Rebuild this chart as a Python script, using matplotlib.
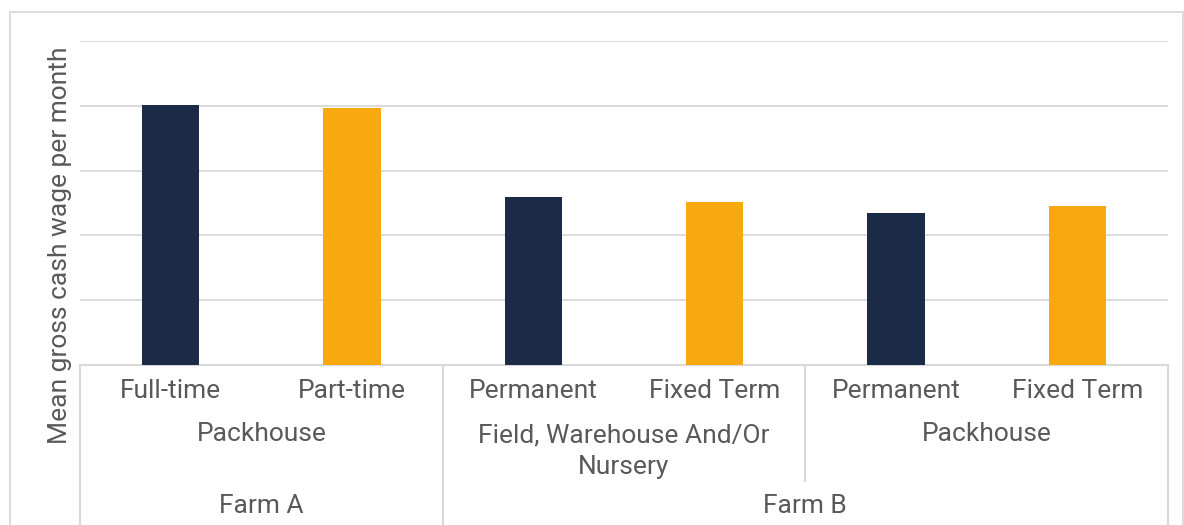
import matplotlib
matplotlib.use("Agg")
import matplotlib.pyplot as plt
from matplotlib.patches import Rectangle
from matplotlib.lines import Line2D

# Data (no y tick labels in the source, values read in grid units)
level1 = ["Full-time", "Part-time", "Permanent", "Fixed Term", "Permanent", "Fixed Term"]
level2 = ["Packhouse", "Field, Warehouse And/Or\nNursery", "Packhouse"]
level2_span = [2, 2, 2]
level3 = ["Farm A", "Farm B"]
level3_span = [2, 4]
values = [4.02, 3.97, 2.60, 2.51, 2.34, 2.45]
colors = ["#1b2a47", "#f7a90f", "#1b2a47", "#f7a90f", "#1b2a47", "#f7a90f"]

plt.rcParams['font.family'] = ['Roboto', 'DejaVu Sans']
txt = "#595959"
grid = "#d9d9d9"
fs = 19

W, H = 1184, 525
fig = plt.figure(figsize=(W / 100, H / 100), dpi=100)
ax = fig.add_axes([80 / W, 1 - 365 / H, (1168 - 80) / W, (365 - 41) / H])

x = list(range(len(values)))
ax.bar(x, values, width=0.315, color=colors, zorder=3)
ax.set_xlim(-0.5, len(values) - 0.5)
ax.set_ylim(0, 5)
ax.set_yticks([1, 2, 3, 4, 5])
ax.yaxis.grid(True, color=grid, linewidth=1.3)
ax.set_axisbelow(True)
ax.tick_params(left=False, bottom=False, labelleft=False, labelbottom=False)
for s in ax.spines.values():
    s.set_visible(False)

tr = ax.get_xaxis_transform()
ph = 365 - 41  # axes height in px
def fy(py):
    return (365 - py) / ph

# baseline
ax.add_line(Line2D([-0.5, len(values) - 0.5], [0, 0], color=grid, lw=1.5, transform=tr, clip_on=False))

# level 1 labels
for i, lab in enumerate(level1):
    ax.text(i, fy(391), lab, ha="center", va="center", fontsize=fs, color=txt, transform=tr)

# level 2 labels
start = 0
for lab, n in zip(level2, level2_span):
    c = start + (n - 1) / 2
    if "\n" in lab:
        ax.text(c, fy(451), lab, ha="center", va="center", fontsize=fs, color=txt,
                transform=tr, linespacing=1.38)
    else:
        ax.text(c, fy(434), lab, ha="center", va="center", fontsize=fs, color=txt, transform=tr)
    start += n

# level 3 labels
start = 0
for lab, n in zip(level3, level3_span):
    c = start + (n - 1) / 2
    ax.text(c, fy(506), lab, ha="center", va="center", fontsize=fs, color=txt, transform=tr)
    start += n

# separators: full-height between level-3 groups, shorter between level-2 groups
b3 = [-0.5]
for n in level3_span:
    b3.append(b3[-1] + n)
b2 = [-0.5]
for n in level2_span:
    b2.append(b2[-1] + n)
for b in b3:
    ax.add_line(Line2D([b, b], [0, fy(560)], color=grid, lw=1.5, transform=tr, clip_on=False))
for b in b2:
    if b not in b3:
        ax.add_line(Line2D([b, b], [0, fy(481)], color=grid, lw=1.5, transform=tr, clip_on=False))

# y label
fig.text(60 / W, 1 - 245 / H, "Mean gross cash wage per month", rotation=90,
         ha="center", va="center", fontsize=fs, color=txt)

# chart border
fig.patches.append(Rectangle((10 / W, -0.1), (1183 - 10) / W, 1 - 12 / H + 0.1,
                             transform=fig.transFigure, fill=False, edgecolor=grid, lw=1.3))

fig.savefig("out.png", dpi=100)
